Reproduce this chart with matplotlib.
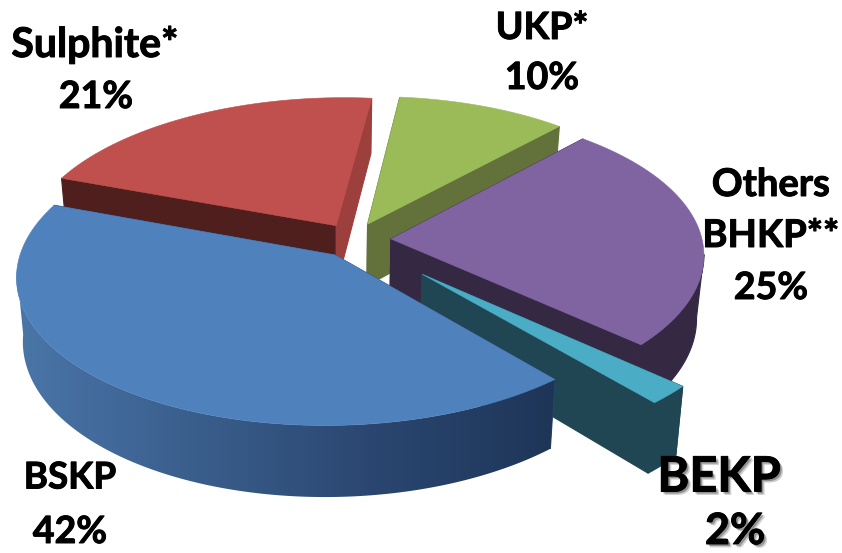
import numpy as np
import matplotlib
matplotlib.use("Agg")
import matplotlib.pyplot as plt
import matplotlib.patheffects as pe
from matplotlib.colors import LinearSegmentedColormap
from matplotlib.patches import Polygon

# Pulp grade shares, listed clockwise from the BSKP slice
categories = ["BSKP", "Sulphite*", "UKP*", "Others\nBHKP**", "BEKP"]
shares = [42, 21, 10, 25, 2]

top_colors = ["#4F81BD", "#C0504D", "#9BBB59", "#8064A2", "#4BACC6"]
start_face_colors = ["#2A4A75", "#4F1F1D", "#62723A", "#352842", "#1F4652"]
end_face_colors = ["#2A4A75", "#9C3F3D", "#62723A", "#352842", "#1F4652"]

# Explosion of each slice on the pie plane (right, back)
explode = [(0.0, 0.0), (-0.002, 0.2), (0.1, 0.21), (0.177, 0.108), (0.276, -0.126)]

# Label lines: centre x, centre y in pixels, font size
label_layout = [
    (0, [(70, 478, 26.5), (70, 532, 27)]),
    (1, [(95, 45, 29.5), (96, 97, 27)]),
    (2, [(542, 28, 27), (542, 78, 27)]),
    (3, [(771, 185, 27.5), (771, 236, 27.5), (771, 288, 27)]),
    (4, [(719, 477, 35), (735, 531, 31)]),
]

START_DEG = -49.0
CX, CY = 335.0, 255.0
RX, RY = 315.0, 150.0
SHEAR = 9.0
PERSP = 0.12
DEPTH = 63.0
TAPER = 0.98


def project(u, v, z=0.0):
    """Map pie-plane coordinates to pixels; z=1 is the underside of the disc."""
    u, v = np.asarray(u, float), np.asarray(v, float)
    w = 1 + PERSP * v
    x = (RX * u + SHEAR * v) / w
    y = -RY * v / w + z * DEPTH / w
    x = x * (1 - (1 - TAPER) * z)
    return CX + x, CY + y


fig = plt.figure(figsize=(8.42, 5.53), dpi=100)
ax = fig.add_axes([0, 0, 1, 1])
ax.axis("off")

blue_rim = LinearSegmentedColormap.from_list("blue_rim", ["#4A76A8", "#3A5E8C", "#2A4670", "#1E3557"])

# Slice angles follow directly from the shares
total = sum(shares)
edges = [START_DEG]
for s in shares:
    edges.append(edges[-1] - 360.0 * s / total)


def draw_slice(i):
    a0, a1 = np.radians(edges[i]), np.radians(edges[i + 1])
    du, dv = explode[i]
    th = np.linspace(a0, a1, max(16, int(abs(edges[i + 1] - edges[i]) * 3)))
    ru, rv = du + np.cos(th), dv + np.sin(th)
    tx, ty = project(ru, rv, 0)
    bx, by = project(ru, rv, 1)

    # The two cut faces running back to the apex
    px, py = project(du, dv, 0)
    qx, qy = project(du, dv, 1)
    for k, col in ((0, start_face_colors[i]), (-1, end_face_colors[i])):
        poly = [(px, py), (tx[k], ty[k]), (bx[k], by[k]), (qx, qy)]
        ax.add_patch(Polygon(poly, closed=True, fc=col, ec=col, lw=0.8, zorder=1))

    # Outer rim: from the silhouette tangent round the part facing the viewer
    front = np.sin(th) < -0.1
    if front.any():
        band = list(zip(tx[front], ty[front])) + list(zip(bx[front][::-1], by[front][::-1]))
        if i == 0:
            clip = Polygon(band, closed=True, fc="none", ec="none", transform=ax.transData)
            ax.add_patch(clip)
            ramp = np.linspace(0, 1, 256)[None, :]
            img = ax.imshow(ramp, cmap=blue_rim, aspect="auto", zorder=1,
                            extent=(min(tx.min(), bx.min()) - 2, tx[front].max() + 2, 553, 0))
            img.set_clip_path(clip)
        else:
            ax.add_patch(Polygon(band, closed=True, fc=end_face_colors[i],
                                 ec=end_face_colors[i], lw=0.8, zorder=1))

    # Top surface
    top = [(px, py)] + list(zip(tx, ty))
    ax.add_patch(Polygon(top, closed=True, fc=top_colors[i], ec=top_colors[i], lw=0.4, zorder=1))


# Painter's order: back slices first, the large front slice last
for i in [1, 2, 3, 4, 0]:
    draw_slice(i)

ax.set_xlim(0, 842)
ax.set_ylim(553, 0)

font = ["Lato", "DejaVu Sans"]
for i, positions in label_layout:
    lines = categories[i].split("\n") + [f"{shares[i]}%"]
    for text, (x, y, size) in zip(lines, positions):
        t = ax.text(x, y, text, ha="center", va="center", fontsize=size,
                    fontweight="bold", family=font, color="black", zorder=5)
        effects = [pe.withStroke(linewidth=0.7, foreground="black")]
        if i == 4:
            effects = [
                pe.SimplePatchShadow(offset=(2.5, -2.5), shadow_rgbFace="#000000", alpha=0.18),
                pe.SimplePatchShadow(offset=(1.5, -1.5), shadow_rgbFace="#000000", alpha=0.3),
            ] + effects
        t.set_path_effects(effects)

fig.savefig("out.png", dpi=100, facecolor="white")
